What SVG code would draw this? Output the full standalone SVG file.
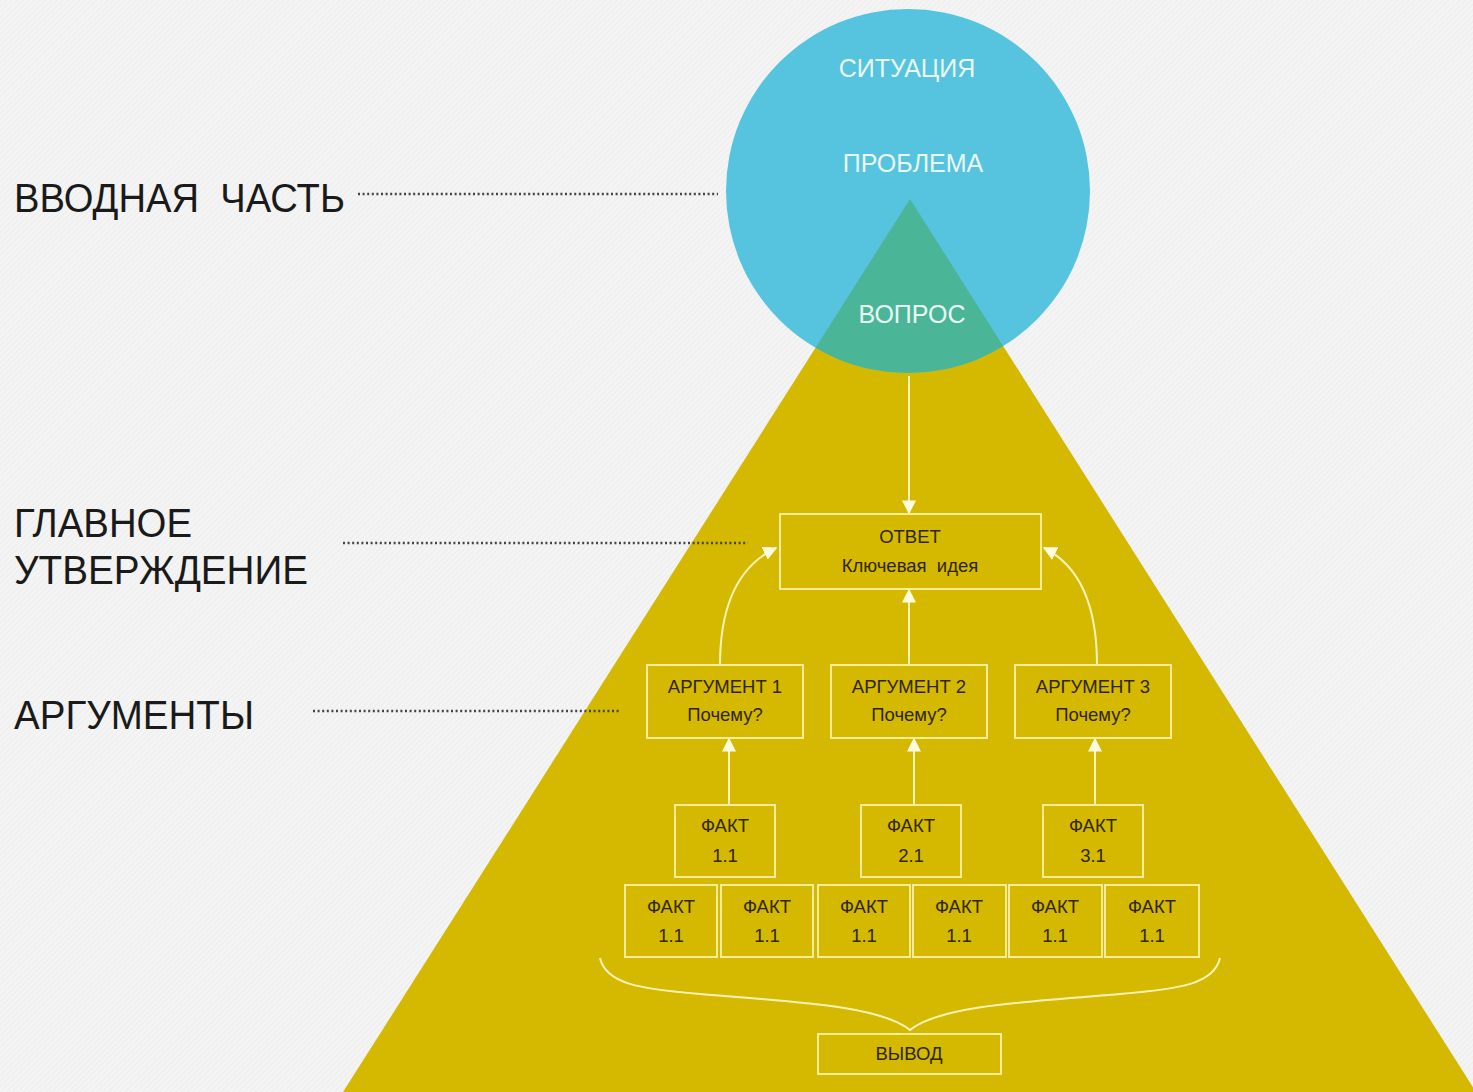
<svg xmlns="http://www.w3.org/2000/svg" width="1473" height="1092" viewBox="0 0 1473 1092">
<defs>
<pattern id="hatch" width="4" height="4" patternUnits="userSpaceOnUse" patternTransform="rotate(45)">
<rect width="4" height="4" fill="#f4f4f4"/>
<line x1="0" y1="0" x2="0" y2="4" stroke="#ebebeb" stroke-width="1.5"/>
</pattern>
<clipPath id="circ"><circle cx="908" cy="191" r="182"/></clipPath>
<marker id="ah" viewBox="0 0 10 10" refX="9" refY="5" markerWidth="7" markerHeight="7" markerUnits="strokeWidth" orient="auto">
<path d="M0,0 L10,5 L0,10 z" fill="#fffbe0"/>
</marker>
</defs>
<style>
.lbl{font-family:"Liberation Sans",Arial,sans-serif;font-size:40px;fill:#1a1a1a}
.ctx{font-family:"Liberation Sans",Arial,sans-serif;font-size:25px;fill:#eaf8f3;text-anchor:middle}
.box{fill:none;stroke:#f6ec9a;stroke-width:2}
.bt{font-family:"Liberation Sans",Arial,sans-serif;font-size:18.5px;fill:#2e2600;text-anchor:middle}
.con{fill:none;stroke:#fff4b8;stroke-width:2;marker-end:url(#ah)}
.dot{fill:none;stroke:#444;stroke-width:2.5;stroke-dasharray:2 2.6}
.brace{fill:none;stroke:#fff4b8;stroke-width:2}
</style>
<rect width="1473" height="1092" fill="url(#hatch)"/>
<g id="pyramid">
<polygon points="910,199 343,1092 1476,1092" fill="#d5b800"/>
</g>
<g id="circle">
<circle cx="908" cy="191" r="182" fill="#56c3df"/>
<polygon points="910,199 343,1092 1476,1092" fill="#4bb598" clip-path="url(#circ)"/>
<text class="ctx" x="907" y="77">СИТУАЦИЯ</text>
<text class="ctx" x="913" y="172">ПРОБЛЕМА</text>
<text class="ctx" x="912" y="323">ВОПРОС</text>
</g>
<g id="labels">
<text class="lbl" x="14" y="212" textLength="331" lengthAdjust="spacingAndGlyphs">ВВОДНАЯ&#160; ЧАСТЬ</text>
<text class="lbl" x="14" y="537" textLength="178" lengthAdjust="spacingAndGlyphs">ГЛАВНОЕ</text>
<text class="lbl" x="14" y="584" textLength="294" lengthAdjust="spacingAndGlyphs">УТВЕРЖДЕНИЕ</text>
<text class="lbl" x="14" y="729" textLength="240" lengthAdjust="spacingAndGlyphs">АРГУМЕНТЫ</text>
</g>
<g id="connectors">
<line class="dot" x1="358" y1="194" x2="718" y2="194"/>
<line class="dot" x1="343" y1="543" x2="748" y2="543"/>
<line class="dot" x1="313" y1="711" x2="620" y2="711"/>
<line class="con" x1="909" y1="376" x2="909" y2="513"/>
<line class="con" x1="909" y1="665" x2="909" y2="590"/>
<path class="con" d="M720,665 C720,605 738,566 776,548"/>
<path class="con" d="M1097,665 C1097,605 1080,566 1044,548"/>
<line class="con" x1="729" y1="805" x2="729" y2="739"/>
<line class="con" x1="914" y1="805" x2="914" y2="739"/>
<line class="con" x1="1095" y1="805" x2="1095" y2="739"/>
<path class="brace" d="M600,958 C606,984 640,989 700,994 C800,1002 880,1006 910,1030 C940,1006 1020,1002 1120,994 C1180,989 1214,984 1220,958"/>
</g>
<g id="answer">
<rect class="box" x="780" y="514" width="261" height="75"/>
<text class="bt" x="910" y="543">ОТВЕТ</text>
<text class="bt" x="910" y="572">Ключевая&#160; идея</text>
</g>
<g id="arg1">
<rect class="box" x="647" y="665" width="156" height="73"/>
<text class="bt" x="725" y="693">АРГУМЕНТ 1</text>
<text class="bt" x="725" y="721">Почему?</text>
</g>
<g id="arg2">
<rect class="box" x="831" y="665" width="156" height="73"/>
<text class="bt" x="909" y="693">АРГУМЕНТ 2</text>
<text class="bt" x="909" y="721">Почему?</text>
</g>
<g id="arg3">
<rect class="box" x="1015" y="665" width="156" height="73"/>
<text class="bt" x="1093" y="693">АРГУМЕНТ 3</text>
<text class="bt" x="1093" y="721">Почему?</text>
</g>
<g id="fact11">
<rect class="box" x="675" y="805" width="100" height="72"/>
<text class="bt" x="725" y="832">ФАКТ</text>
<text class="bt" x="725" y="862">1.1</text>
</g>
<g id="fact21">
<rect class="box" x="861" y="805" width="100" height="72"/>
<text class="bt" x="911" y="832">ФАКТ</text>
<text class="bt" x="911" y="862">2.1</text>
</g>
<g id="fact31">
<rect class="box" x="1043" y="805" width="100" height="72"/>
<text class="bt" x="1093" y="832">ФАКТ</text>
<text class="bt" x="1093" y="862">3.1</text>
</g>
<g id="fb1">
<rect class="box" x="625" y="885" width="92" height="72"/>
<text class="bt" x="671" y="913">ФАКТ</text>
<text class="bt" x="671" y="942">1.1</text>
</g>
<g id="fb2">
<rect class="box" x="721" y="885" width="92" height="72"/>
<text class="bt" x="767" y="913">ФАКТ</text>
<text class="bt" x="767" y="942">1.1</text>
</g>
<g id="fb3">
<rect class="box" x="818" y="885" width="92" height="72"/>
<text class="bt" x="864" y="913">ФАКТ</text>
<text class="bt" x="864" y="942">1.1</text>
</g>
<g id="fb4">
<rect class="box" x="913" y="885" width="93" height="72"/>
<text class="bt" x="959" y="913">ФАКТ</text>
<text class="bt" x="959" y="942">1.1</text>
</g>
<g id="fb5">
<rect class="box" x="1009" y="885" width="93" height="72"/>
<text class="bt" x="1055" y="913">ФАКТ</text>
<text class="bt" x="1055" y="942">1.1</text>
</g>
<g id="fb6">
<rect class="box" x="1105" y="885" width="94" height="72"/>
<text class="bt" x="1152" y="913">ФАКТ</text>
<text class="bt" x="1152" y="942">1.1</text>
</g>
<g id="conclusion">
<rect class="box" x="818" y="1034" width="183" height="40"/>
<text class="bt" x="909" y="1060">ВЫВОД</text>
</g>
</svg>
